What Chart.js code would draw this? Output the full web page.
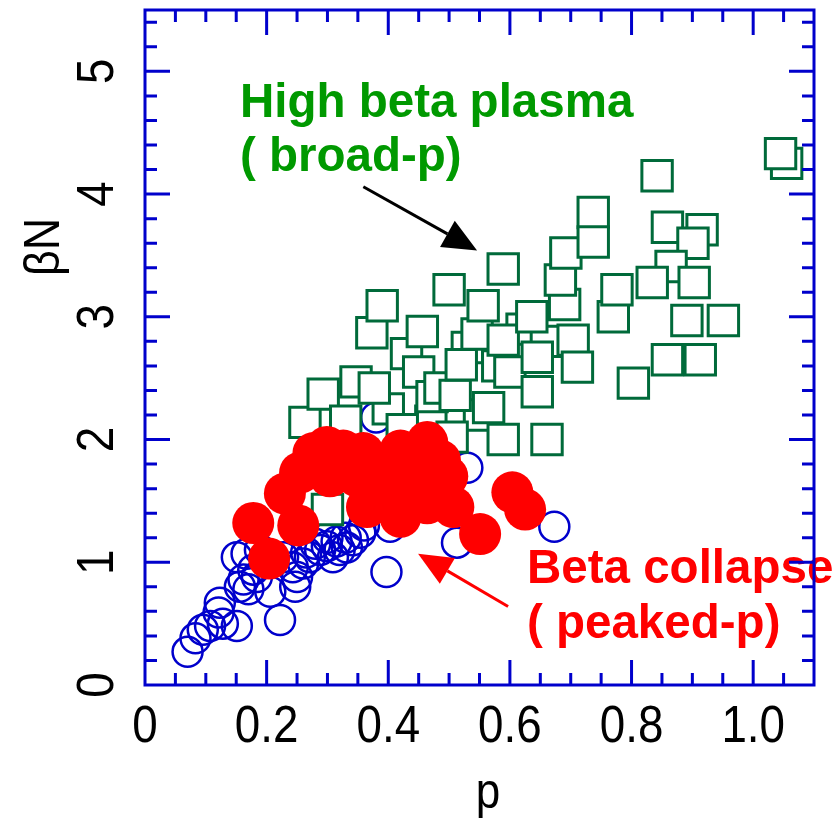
<!DOCTYPE html>
<html>
<head>
<meta charset="utf-8">
<script src="https://cdn.jsdelivr.net/npm/chart.js@4"></script>
<style>
  html, body { margin: 0; padding: 0; background: #fff; }
  #chart { display: block; }
</style>
</head>
<body>
<canvas id="chart" width="836" height="824"></canvas>
<script>
// Normal discharges (open circles)
const normalPoints = [
    [0.070, 0.27], [0.083, 0.38], [0.095, 0.45], [0.107, 0.48], [0.121, 0.59],
    [0.123, 0.67], [0.128, 0.50], [0.151, 0.48], [0.156, 0.80], [0.162, 0.86],
    [0.170, 0.78], [0.151, 1.04], [0.167, 1.07], [0.178, 0.94], [0.184, 0.88],
    [0.189, 1.10], [0.206, 0.76], [0.222, 0.53], [0.227, 1.04], [0.243, 0.96],
    [0.247, 0.80], [0.250, 0.88], [0.260, 0.99], [0.265, 1.08], [0.271, 1.04],
    [0.280, 1.15], [0.288, 1.10], [0.299, 1.13], [0.300, 1.20], [0.309, 1.04],
    [0.315, 1.17], [0.320, 1.10], [0.332, 1.12], [0.330, 1.20], [0.342, 1.18],
    [0.354, 1.24], [0.360, 1.30], [0.397, 0.92], [0.403, 1.29], [0.420, 1.35],
    [0.380, 2.18], [0.513, 1.16], [0.673, 1.29], [0.530, 1.77]
];

// High beta, broad pressure profile (open squares)
const broadPoints = [
    [0.263, 2.14], [0.293, 2.37], [0.300, 1.43], [0.330, 2.15], [0.347, 2.47],
    [0.400, 2.25], [0.430, 2.70], [0.450, 2.55], [0.470, 2.15], [0.373, 2.87],
    [0.377, 2.42], [0.390, 3.09], [0.423, 2.08], [0.456, 2.88], [0.472, 2.35],
    [0.485, 2.42], [0.530, 2.75], [0.550, 2.20], [0.580, 2.60], [0.600, 2.55],
    [0.620, 2.90], [0.660, 2.80], [0.690, 3.10], [0.500, 3.22], [0.505, 2.02],
    [0.510, 2.36], [0.520, 2.61], [0.546, 2.86], [0.556, 3.09], [0.565, 2.26],
    [0.589, 2.81], [0.589, 2.00], [0.589, 3.39], [0.636, 3.00], [0.645, 2.67],
    [0.645, 2.39], [0.661, 2.00], [0.683, 3.30], [0.692, 3.52], [0.704, 2.81],
    [0.711, 2.59], [0.737, 3.85], [0.737, 3.61], [0.770, 3.00], [0.776, 3.22],
    [0.803, 2.46], [0.842, 4.15], [0.916, 3.71], [0.859, 3.73], [0.901, 3.60],
    [0.865, 3.41], [0.834, 3.28], [0.903, 3.28], [0.891, 2.97], [0.951, 2.97],
    [0.859, 2.65], [0.913, 2.65], [1.055, 4.25], [1.045, 4.33]
];

// Beta collapse, peaked pressure profile (filled circles)
const collapsePoints = [
    [0.178, 1.32], [0.204, 1.03], [0.252, 1.30], [0.230, 1.56], [0.255, 1.73],
    [0.277, 1.89], [0.299, 1.94], [0.304, 1.70], [0.326, 1.91], [0.349, 1.70],
    [0.359, 1.89], [0.365, 1.45], [0.375, 1.56], [0.387, 1.70], [0.398, 1.51],
    [0.408, 1.81], [0.420, 1.91], [0.420, 1.37], [0.436, 1.75], [0.452, 1.61],
    [0.464, 1.98], [0.464, 1.48], [0.485, 1.83], [0.497, 1.70], [0.507, 1.45],
    [0.551, 1.23], [0.604, 1.57], [0.625, 1.43]
];

const xTicks = [0, 0.2, 0.4, 0.6, 0.8, 1.0];
const xTickLabels = ['0', '0.2', '0.4', '0.6', '0.8', '1.0'];
const yTicks = [0, 1, 2, 3, 4, 5];
const yTickLabels = ['0', '1', '2', '3', '4', '5'];
const xMinorStep = 0.05;
const yMinorStep = 0.2;

const AXIS_BLUE = '#0000cc';
const FONT = '"Liberation Sans", Arial, sans-serif';

function toXY(pairs) {
    return pairs.map(p => ({ x: p[0], y: p[1] }));
}

// slightly condensed text, like the original plotting package
function narrowText(ctx, text, x, y, squeeze) {
    ctx.save();
    ctx.translate(x, y);
    ctx.scale(squeeze, 1);
    ctx.fillText(text, 0, 0);
    ctx.restore();
}

function drawArrow(ctx, x0, y0, x1, y1, color, headLen, headWidth) {
    const ang = Math.atan2(y1 - y0, x1 - x0);
    const bx = x1 - headLen * Math.cos(ang);
    const by = y1 - headLen * Math.sin(ang);
    ctx.strokeStyle = color;
    ctx.fillStyle = color;
    ctx.lineWidth = 3;
    ctx.beginPath();
    ctx.moveTo(x0, y0);
    ctx.lineTo(bx, by);
    ctx.stroke();
    ctx.beginPath();
    ctx.moveTo(x1, y1);
    ctx.lineTo(bx + headWidth / 2 * Math.sin(ang), by - headWidth / 2 * Math.cos(ang));
    ctx.lineTo(bx - headWidth / 2 * Math.sin(ang), by + headWidth / 2 * Math.cos(ang));
    ctx.closePath();
    ctx.fill();
}

// Text labels and arrows, placed in data units
const annotations = {
    id: 'annotations',
    afterDatasetsDraw(chart) {
        const { ctx, scales: { x, y } } = chart;
        ctx.save();
        ctx.font = 'bold 49px ' + FONT;
        ctx.textAlign = 'left';
        ctx.textBaseline = 'alphabetic';

        ctx.fillStyle = '#009900';
        narrowText(ctx, 'High beta plasma', x.getPixelForValue(0.156), y.getPixelForValue(4.63), 0.97);
        narrowText(ctx, '( broad-p)', x.getPixelForValue(0.156), y.getPixelForValue(4.19), 0.97);

        ctx.fillStyle = '#ff0000';
        narrowText(ctx, 'Beta collapse', x.getPixelForValue(0.628), y.getPixelForValue(0.83), 0.97);
        narrowText(ctx, '( peaked-p)', x.getPixelForValue(0.628), y.getPixelForValue(0.385), 0.97);

        drawArrow(ctx, x.getPixelForValue(0.359), y.getPixelForValue(4.06),
            x.getPixelForValue(0.546), y.getPixelForValue(3.54), '#000000', 34, 30);
        drawArrow(ctx, x.getPixelForValue(0.597), y.getPixelForValue(0.64),
            x.getPixelForValue(0.449), y.getPixelForValue(1.07), '#ff0000', 34, 30);
        ctx.restore();
    }
};

// Box frame with inward ticks on all four sides, plus tick labels and titles
const frameAndTicks = {
    id: 'frameAndTicks',
    afterDraw(chart) {
        const { ctx, chartArea: a, scales: { x, y } } = chart;
        ctx.save();
        ctx.strokeStyle = AXIS_BLUE;
        ctx.lineWidth = 3;
        ctx.lineCap = 'butt';

        ctx.beginPath();
        const nx = Math.round(x.max / xMinorStep);
        for (let i = 1; i < nx; i++) {
            const v = i * xMinorStep;
            const major = xTicks.some(t => Math.abs(t - v) < 1e-6);
            const len = major ? 25 : 12;
            const px = x.getPixelForValue(v);
            ctx.moveTo(px, a.bottom);
            ctx.lineTo(px, a.bottom - len);
            ctx.moveTo(px, a.top);
            ctx.lineTo(px, a.top + len);
        }
        const ny = Math.round(y.max / yMinorStep);
        for (let i = 1; i < ny; i++) {
            const v = i * yMinorStep;
            const major = yTicks.some(t => Math.abs(t - v) < 1e-6);
            const len = major ? 25 : 12;
            const py = y.getPixelForValue(v);
            ctx.moveTo(a.left, py);
            ctx.lineTo(a.left + len, py);
            ctx.moveTo(a.right, py);
            ctx.lineTo(a.right - len, py);
        }
        ctx.stroke();

        ctx.strokeRect(a.left, a.top, a.right - a.left, a.bottom - a.top);

        ctx.fillStyle = '#000000';
        ctx.font = '52px ' + FONT;
        ctx.textAlign = 'center';
        ctx.textBaseline = 'alphabetic';
        xTicks.forEach((v, i) => {
            narrowText(ctx, xTickLabels[i], x.getPixelForValue(v), a.bottom + 57, 0.88);
        });

        yTicks.forEach((v, i) => {
            ctx.save();
            ctx.translate(a.left - 32, y.getPixelForValue(v));
            ctx.rotate(-Math.PI / 2);
            narrowText(ctx, yTickLabels[i], 0, 0, 0.88);
            ctx.restore();
        });

        ctx.font = '50px ' + FONT;
        narrowText(ctx, 'p', x.getPixelForValue(0.564), a.bottom + 123, 0.88);

        ctx.save();
        ctx.translate(59, y.getPixelForValue(3.57));
        ctx.rotate(-Math.PI / 2);
        narrowText(ctx, '\u03B2N', 0, 0, 0.9);
        ctx.restore();

        ctx.restore();
    }
};

new Chart(document.getElementById('chart'), {
    type: 'scatter',
    data: {
        datasets: [{
            label: 'collapse',
            data: toXY(collapsePoints),
            order: 0,
            pointStyle: 'circle',
            pointRadius: 21,
            backgroundColor: '#ff0000',
            borderColor: '#ff0000',
            borderWidth: 0,
            clip: false
        }, {
            label: 'broad',
            data: toXY(broadPoints),
            order: 1,
            pointStyle: 'rect',
            pointRadius: 21.5,
            backgroundColor: '#ffffff',
            borderColor: '#006a3a',
            borderWidth: 3,
            clip: false
        }, {
            label: 'normal',
            data: toXY(normalPoints),
            order: 2,
            pointStyle: 'circle',
            pointRadius: 15,
            backgroundColor: 'rgba(0,0,0,0)',
            borderColor: AXIS_BLUE,
            borderWidth: 2.5,
            clip: false
        }]
    },
    options: {
        responsive: false,
        animation: false,
        events: [],
        layout: {
            autoPadding: false,
            padding: { left: 145, right: 22, top: 10, bottom: 139 }
        },
        plugins: {
            legend: { display: false },
            tooltip: { enabled: false }
        },
        scales: {
            x: { type: 'linear', min: 0, max: 1.1, display: false },
            y: { type: 'linear', min: 0, max: 5.5, display: false }
        }
    },
    plugins: [annotations, frameAndTicks]
});
</script>
</body>
</html>
